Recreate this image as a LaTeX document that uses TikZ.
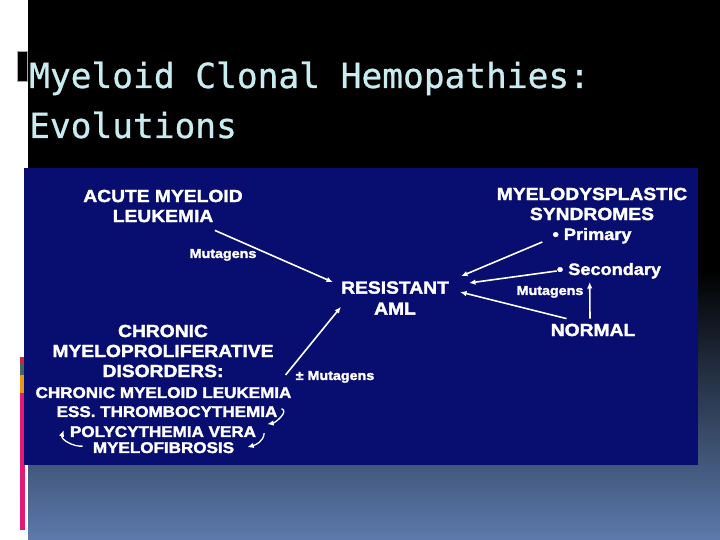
\documentclass[tikz,border=0pt]{standalone}
\usepackage{fontspec}
\usepackage{tikz}
\usetikzlibrary{calc,arrows.meta}
\newfontfamily\titlefont[FakeBold=0.8]{DejaVu Sans Mono}
\newfontfamily\boxfont[FakeStretch=1.1,BoldFeatures={FakeBold=2}]{Liberation Sans}
\definecolor{slidebox}{RGB}{8,14,112}
\definecolor{slidebot}{RGB}{92,122,172}
\definecolor{titlecyan}{RGB}{200,236,240}
\definecolor{barpink}{RGB}{228,24,120}
\definecolor{barred}{RGB}{205,40,60}
\definecolor{barteal}{RGB}{72,100,92}
\definecolor{barorange}{RGB}{232,150,30}

\begin{document}
\begin{tikzpicture}[x=1pt,y=1pt,>={Latex[length=6.5pt,width=5.5pt]},
  ttl/.style={inner sep=0,text=titlecyan,font=\titlefont\fontsize{34.5}{40}\selectfont},
  head/.style={inner sep=0,text=white,align=center,font=\boxfont\bfseries\fontsize{17.5}{20}\selectfont},
  item/.style={inner sep=0,text=white,font=\boxfont\bfseries\fontsize{15.5}{19}\selectfont},
  sub/.style={inner sep=0,text=white,font=\boxfont\bfseries\fontsize{16.5}{19}\selectfont},
  note/.style={inner sep=0,text=white,font=\boxfont\bfseries\fontsize{13}{15}\selectfont},
  evo/.style={draw=white,line width=1.6pt,->},
  curl/.style={draw=white,line width=1.3pt,->}]
% slide background
\fill[white] (0,0) rectangle (720,540);
\useasboundingbox (0,0) rectangle (720,540);
\shade[top color=black,bottom color=slidebot,middle color=black] (28,0) rectangle (720,540);
\fill[black,draw=gray!70,line width=0.6pt] (17,459) rectangle (27,489);
\fill[barpink] (20,10) rectangle (25,147);
\fill[barorange] (20,147) rectangle (25,165);
\fill[barteal] (20,165) rectangle (25,177);
\fill[barred] (20,177) rectangle (25,183);
\fill[slidebox] (24,75) rectangle (698,372);
% title
\node[ttl,anchor=base west] (ttl1) at (29,452) {Myeloid Clonal Hemopathies:};
\node[ttl,anchor=base west] (ttl2) at (29,402) {Evolutions};
% boxes
\node[head] (aml) at (163,334) {ACUTE MYELOID\\LEUKEMIA};
\node[head] (mds) at (592,336) {MYELODYSPLASTIC\\SYNDROMES};
\node[sub,anchor=base] (prim) at (592,300) {• Primary};
\node[sub,anchor=base] (sec) at (609,265) {• Secondary};
\node[head,align=center,font=\boxfont\bfseries\fontsize{17.5}{21}\selectfont] (res) at (395,242) {RESISTANT\\AML};
\node[head] (norm) at (593,210) {NORMAL};
\node[note,anchor=base] (mutl) at (223,282) {Mutagens};
\node[note,anchor=base] (mutr) at (550,245) {Mutagens};
\node[note,anchor=base] (mutp) at (335,160) {± Mutagens};
\node[head] (cmpd) at (163,189) {CHRONIC\\MYELOPROLIFERATIVE\\DISORDERS:};
\node[item,anchor=base] (cml) at (163.5,142) {CHRONIC MYELOID LEUKEMIA};
\node[item,anchor=base] (et) at (167,123) {ESS. THROMBOCYTHEMIA};
\node[item,anchor=base] (pv) at (163,103) {POLYCYTHEMIA VERA};
\node[item,anchor=base] (mf) at (163.5,87) {MYELOFIBROSIS};
% evolutions
\draw[evo] ($(aml.south east)+(-28,-8)$) -- ($(res.north west)+(-8,-1)$);
\draw[evo] ($(cml.north east)+(-6,12)$) -- ($(res.south west)+(0,8)$);
\draw[evo] ($(prim.base west)+(-10,-2)$) -- ($(res.north east)+(12,5)$);
\draw[evo] ($(sec.base west)+(0,4)$) -- ($(res.east)+(20,15)$);
\draw[evo] ($(norm.north west)+(16,5)$) -- ($(res.east)+(11,6)$);
\draw[evo] ($(norm.north)+(-3,5)$) -- ($(sec.base west)+(33,-7)$);
\draw[curl] ($(et.east)+(4,3)$) to[out=-20,in=10] ($(pv.east)+(11,7.5)$);
\draw[curl] ($(pv.east)+(8,-1.5)$) to[out=-95,in=15] ($(mf.east)+(13,0.5)$);
\draw[curl] ($(mf.west)+(-10,1.5)$) to[out=185,in=-110] ($(pv.west)+(-6,1.5)$);
\end{tikzpicture}
\end{document}
